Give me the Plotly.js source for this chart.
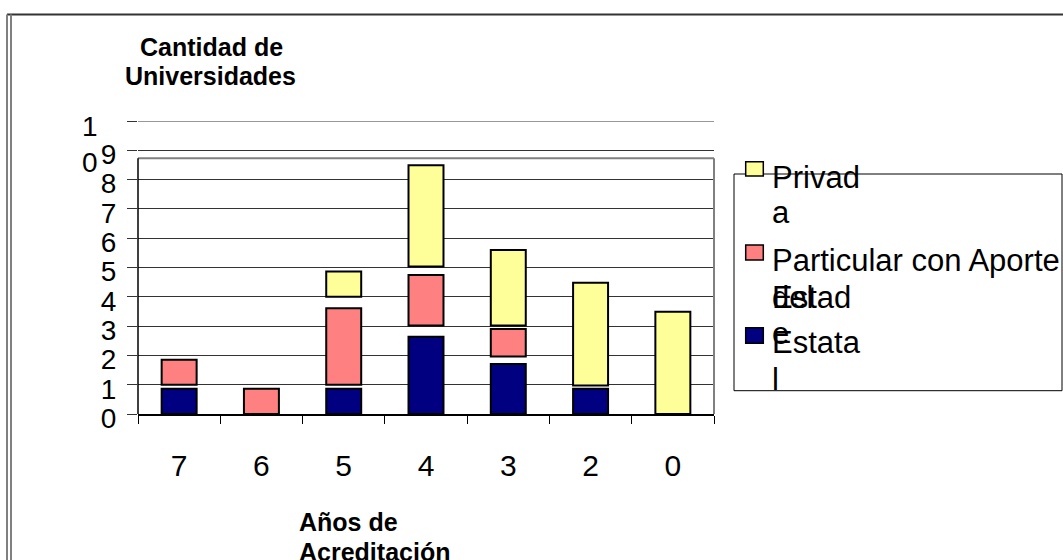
<!DOCTYPE html>
<html><head><meta charset="utf-8">
<script src="https://cdn.plot.ly/plotly-3.0.1.min.js"></script>
<style>html,body{margin:0;padding:0;background:#fff;}#chart{width:1063px;height:560px;}</style>
</head><body><div id="chart"></div>
<script>
// ---- data ----
const categories = ['7', '6', '5', '4', '3', '2', '0'];
const seriesNames = ['Estatal', 'Particular con Aporte del Estado', 'Privada'];
const seriesColors = ['#000080', '#FF8080', '#FFFF99'];
const estatalStart = [0, null, 0, 0, 0, 0, null];
const estatalEnd = [0.86, null, 0.86, 2.64, 1.71, 0.86, null];
const particularStart = [1, 0, 1, 3.02, 1.96, null, null];
const particularEnd = [1.85, 0.86, 3.61, 4.74, 2.9, null, null];
const privadaStart = [null, null, 4, 5.03, 3.02, 0.97, 0];
const privadaEnd = [null, null, 4.86, 8.49, 5.6, 4.48, 3.49];
const yTickVals = [0, 1, 2, 3, 4, 5, 6, 7, 8, 9, 10];
const yTickText = ['0', '1', '2', '3', '4', '5', '6', '7', '8', '9', ''];
const yTopLabel = '1<br>0';
const yTitleLines = ['Cantidad de', 'Universidades'];
const xTitleLines = ['Años de', 'Acreditación'];

// ---- layout helpers ----
const W = 1063, H = 560, ML = 138, MR = 349, MT = 121, MB = 146;
const PW = W - ML - MR, PH = H - MT - MB;
const px = X => (X - ML) / PW;
const py = Y => (H - MB - Y) / PH;
const FONT = 'Liberation Sans, Arial, sans-serif';

function heights(s, e) { return s.map((v, i) => (v === null || e[i] === null) ? null : e[i] - v); }
function mkTrace(idx, s, e) {
  return {
    type: 'bar', name: seriesNames[idx], x: categories, y: heights(s, e), base: s,
    marker: {color: seriesColors[idx], line: {color: '#000', width: 2}},
    showlegend: false, hoverinfo: 'skip'
  };
}
const traces = [
  mkTrace(0, estatalStart, estatalEnd),
  mkTrace(1, particularStart, particularEnd),
  mkTrace(2, privadaStart, privadaEnd)
];

const shapes = [];
const annotations = [];
function line(x0, y0, x1, y1, color, width) {
  shapes.push({type: 'line', xref: 'paper', yref: 'paper', x0: px(x0), y0: py(y0), x1: px(x1), y1: py(y1),
    line: {color: color, width: width}, layer: 'above'});
}
function rect(x0, y0, x1, y1, fill, lc, lw) {
  shapes.push({type: 'rect', xref: 'paper', yref: 'paper', x0: px(x0), y0: py(y0), x1: px(x1), y1: py(y1),
    fillcolor: fill, line: {color: lc, width: lw}, layer: 'above'});
}
function text(t, x, y, xa, size, bold, align) {
  annotations.push({text: bold ? '<b>' + t + '</b>' : t, xref: 'paper', yref: 'paper', x: px(x), y: py(y),
    xanchor: xa, yanchor: 'middle', showarrow: false, align: align || 'left',
    font: {family: FONT, size: size, color: '#000'}});
}

// top gridline (value 10) at the plot edge
shapes.push({type: 'line', xref: 'paper', yref: 'y', x0: 0, x1: 1, y0: yTickVals[10], y1: yTickVals[10],
  line: {color: '#333', width: 1}, layer: 'below'});

// outer frame
line(7, 14.5, 1063, 14.5, '#333', 2);
line(7, 14.5, 7, 560, '#808080', 2);
line(11, 14.5, 11, 560, '#808080', 2);
// plot area box
line(138, 158.3, 714, 158.3, '#808080', 2);
line(714, 158.3, 714, 414, '#808080', 2);
line(138, 158.3, 138, 414, '#000', 1.5);

// y top label
text(yTopLabel, 100, 144, 'right', 28, false, 'right');
// titles
text(yTitleLines[0], 211.5, 47.5, 'center', 25, true);
text(yTitleLines[1], 210.5, 76, 'center', 25, true);
text(xTitleLines[0], 297, 522, 'left', 25, true);
text(xTitleLines[1], 297, 552, 'left', 25, true);

// legend
rect(734, 174, 1062, 390.7, 'rgba(0,0,0,0)', '#000', 1);
rect(745.7, 161.7, 763.3, 176, seriesColors[2], '#000', 1.5);
rect(745.7, 245, 763.3, 260, seriesColors[1], '#000', 1.5);
rect(745.7, 327.7, 763.3, 343.3, seriesColors[0], '#000', 1.5);
const LX = 770;
text('Privad', LX, 177.5, 'left', 31);
text('a', LX, 212.5, 'left', 31);
text('Particular con Aporte', LX, 260.5, 'left', 31);
text('del', LX, 297.5, 'left', 31);
text('Estad', LX, 297.5, 'left', 31);
text('e', LX, 333.6, 'left', 31);
text('Estata', LX, 342.6, 'left', 31);
text('l', LX, 379.6, 'left', 31);

const layout = {
  width: W, height: H,
  margin: {l: ML, r: MR, t: MT, b: MB, pad: 0},
  paper_bgcolor: '#fff', plot_bgcolor: '#fff',
  font: {family: FONT, color: '#000'},
  barmode: 'overlay', bargap: 0.575,
  showlegend: false,
  xaxis: {
    type: 'category', categoryorder: 'array', categoryarray: categories,
    tickson: 'boundaries', ticks: 'outside', ticklen: 8, tickcolor: '#000', tickwidth: 1,
    showline: true, linecolor: '#000', linewidth: 1.5, showgrid: false, zeroline: false,
    tickfont: {family: FONT, size: 30, color: '#000'}, ticklabelstandoff: 24,
    fixedrange: true
  },
  yaxis: {
    range: [0, 10], tickmode: 'array', tickvals: yTickVals, ticktext: yTickText,
    ticks: 'outside', ticklen: 10, tickcolor: '#333', tickwidth: 1,
    showgrid: true, gridcolor: '#333', gridwidth: 1, showline: false, zeroline: false,
    tickfont: {family: FONT, size: 28, color: '#000'}, ticklabelstandoff: 5, ticklabelshift: 4,
    fixedrange: true
  },
  shapes: shapes,
  annotations: annotations
};
Plotly.newPlot('chart', traces, layout, {staticPlot: true, displayModeBar: false});
</script>
</body></html>
